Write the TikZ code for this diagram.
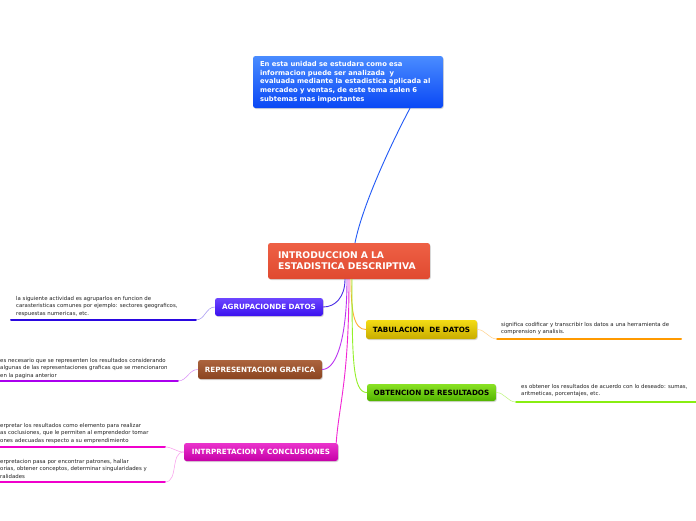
\documentclass[tikz,border=0pt]{standalone}
\usepackage{fontspec}
\setmainfont{DejaVu Sans}
\usetikzlibrary{shadows}
\definecolor{skyhi}{HTML}{4A8CFF}
\definecolor{skylo}{HTML}{0A48F5}
\definecolor{hubhi}{HTML}{EE6045}
\definecolor{hublo}{HTML}{E04A30}
\definecolor{agrhi}{HTML}{6C46FF}
\definecolor{agrlo}{HTML}{3A10EE}
\definecolor{rephi}{HTML}{AC643E}
\definecolor{replo}{HTML}{8A4420}
\definecolor{inthi}{HTML}{EA34CC}
\definecolor{intlo}{HTML}{C600A8}
\definecolor{tabhi}{HTML}{F4DC14}
\definecolor{tablo}{HTML}{C8AC00}
\definecolor{obthi}{HTML}{8AE224}
\definecolor{obtlo}{HTML}{52B400}
\definecolor{agrink}{HTML}{2A08E0}
\definecolor{repink}{HTML}{AA00EE}
\definecolor{intink}{HTML}{F000CC}
\definecolor{tabink}{HTML}{FF9A00}
\definecolor{obtink}{HTML}{88EE11}
\definecolor{noteink}{HTML}{222222}

\begin{document}
\begin{tikzpicture}[x=1pt,y=-1pt,line cap=round,line join=round,
  topic/.style={rounded corners=2.5pt,inner sep=0pt,text=white,
    font=\bfseries\fontsize{7.2}{8}\selectfont,
    drop shadow={shadow xshift=.8pt,shadow yshift=-1pt,opacity=.3}},
  note/.style={anchor=north west,align=left,inner sep=0pt,text=noteink,
    font=\fontsize{5.4}{7.4}\selectfont},
  link/.style={line width=.9pt},
  twig/.style={line width=.5pt},
  rule/.style={line width=2pt}]
\path[use as bounding box] (0,0) rectangle (696,520);
\fill[white] (0,0) rectangle (696,520);

% nodos principales
\node[topic,top color=skyhi,bottom color=skylo,minimum width=190pt,minimum height=52pt,
  text width=176pt,align=left,font=\bfseries\fontsize{6.8}{8.6}\selectfont]
  (intro) at (348,82) {En esta unidad se estudara como esa\\informacion puede ser analizada~ y\\evaluada mediante la estadistica aplicada al\\mercadeo y ventas, de este tema salen 6\\subtemas mas importantes};
\node[topic,top color=hubhi,bottom color=hublo,minimum width=162pt,minimum height=36pt,
  text width=142pt,align=left,font=\bfseries\fontsize{9.2}{10.8}\selectfont]
  (hub) at (349,261) {INTRODUCCION A LA\\ESTADISTICA DESCRIPTIVA};

% subtemas
\node[topic,top color=agrhi,bottom color=agrlo,minimum width=108pt,minimum height=18pt]
  (agr) at (269,307) {AGRUPACIONDE DATOS};
\node[topic,top color=rephi,bottom color=replo,minimum width=124pt,minimum height=19pt]
  (rep) at (260,369.5) {REPRESENTACION GRAFICA};
\node[topic,top color=inthi,bottom color=intlo,minimum width=154pt,minimum height=18pt]
  (int) at (261,452) {INTRPRETACION Y CONCLUSIONES};
\node[topic,top color=tabhi,bottom color=tablo,minimum width=111pt,minimum height=19pt,text=black]
  (tab) at (421.5,329.5) {TABULACION~ DE DATOS};
\node[topic,top color=obthi,bottom color=obtlo,minimum width=129pt,minimum height=17pt,text=black]
  (obt) at (431.5,392.5) {OBTENCION DE RESULTADOS};

% notas
\node[note] (agrtxt) at (16,296) {la siguiente actividad es agruparlos en funcion de\\carasteristicas comunes por ejemplo: sectores geograficos,\\respuestas numericas, etc.};
\node[note] (reptxt) at (0,358) {es necesario que se representen los resultados considerando\\algunas de las representaciones graficas que se mencionaron\\en la pagina anterior};
\node[note] (intatxt) at (0,423) {erpretar los resultados como elemento para realizar\\as coclusiones, que le permiten al emprendedor tomar\\ones adecuadas respecto a su emprendimiento};
\node[note] (intbtxt) at (0,459) {erpretacion pasa por encontrar patrones, hallar\\orias, obtener conceptos, determinar singularidades y\\ralidades};
\node[note] (tabtxt) at (501,322) {significa codificar y transcribir los datos a una herramienta de\\comprension y analisis.};
\node[note] (obttxt) at (521,384) {es obtener los resultados de acuerdo con lo deseado: sumas,\\aritmeticas, porcentajes, etc.};

% subrayados
\coordinate (agrend) at (196,320);
\coordinate (repend) at (178,381);
\coordinate (intaend) at (165,447);
\coordinate (intbend) at (165,482);
\coordinate (tabend) at (497,339);
\coordinate (obtend) at (516,402);
\draw[rule,agrink] (11,320) -- (agrend);
\draw[rule,repink] (0,381) -- (repend);
\draw[rule,intink] (0,447) -- (intaend);
\draw[rule,intink] (0,482) -- (intbend);
\draw[rule,tabink] (tabend) -- (681,339);
\draw[rule,obtink] (obtend) -- (696,402);

% ramas hacia las notas
\draw[twig,agrink!45] (agr.west) to[out=180,in=0] (agrend);
\draw[twig,repink!45] (rep.west) to[out=180,in=0] (repend);
\draw[twig,intink!40] (int.west) to[out=180,in=0] (intaend);
\draw[twig,intink!40] (int.west) to[out=180,in=0] (intbend);
\draw[twig,tabink!45] (tab.east) to[out=0,in=180] (tabend);
\draw[twig,obtink!55] (obt.east) to[out=0,in=180] (obtend);

% conectores del nodo central
\draw[link,skylo!90] ([xshift=6pt]hub.north) .. controls +(8,-40) and +(-16,30) .. ([xshift=62pt]intro.south);
\draw[link,agrink!85] ([xshift=-4pt]hub.south) .. controls +(0,18) and +(12,0) .. (agr.east);
\draw[link,repink!80] ([xshift=-2pt]hub.south) .. controls +(0,60) and +(14,0) .. (rep.east);
\draw[link,intink!85] (hub.south) .. controls +(0,100) and +(3,-40) .. ([xshift=-2pt]int.north east);
\draw[link,tabink!80] ([xshift=2pt]hub.south) .. controls +(0,32) and +(-12,0) .. (tab.west);
\draw[link,obtink!90] ([xshift=3pt]hub.south) .. controls +(0,80) and +(-14,0) .. (obt.west);
\end{tikzpicture}
\end{document}
